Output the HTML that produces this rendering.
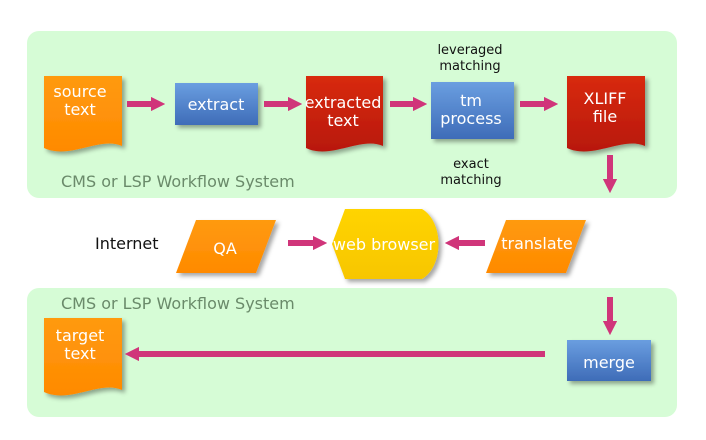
<!DOCTYPE html>
<html><head><meta charset="utf-8"><style>
html,body{margin:0;padding:0;background:#fff;}
svg{display:block;}
text{font-family:"DejaVu Sans","Liberation Sans",sans-serif;}
</style></head><body>
<svg width="706" height="440" viewBox="0 0 706 440" xmlns="http://www.w3.org/2000/svg">
<defs>
<linearGradient id="og" x1="0" y1="0" x2="0" y2="1"><stop offset="0" stop-color="#ff9a10"/><stop offset="1" stop-color="#ff8a00"/></linearGradient>
<linearGradient id="rg" x1="0" y1="0" x2="0" y2="1"><stop offset="0" stop-color="#d82a10"/><stop offset="1" stop-color="#b81808"/></linearGradient>
<linearGradient id="bg" x1="0" y1="0" x2="0" y2="1"><stop offset="0" stop-color="#6a9ee0"/><stop offset="1" stop-color="#3e6cb8"/></linearGradient>
<linearGradient id="yg" x1="0" y1="0" x2="0" y2="1"><stop offset="0" stop-color="#ffd400"/><stop offset="1" stop-color="#f7c600"/></linearGradient>
<filter id="sh" x="-20%" y="-20%" width="150%" height="150%"><feDropShadow dx="3" dy="3" stdDeviation="2" flood-color="#000" flood-opacity="0.35"/></filter>
<marker id="ah" viewBox="0 0 10 10" refX="5" refY="5" markerWidth="2.4" markerHeight="2.4" orient="auto"><path d="M0,0 L10,5 L0,10 z" fill="#d0357a"/></marker>
</defs>
<rect x="27" y="31" width="650" height="167" rx="12" fill="#d6fcd6"/>
<rect x="27" y="288" width="650" height="129" rx="12" fill="#d6fcd6"/>
<g filter="url(#sh)">
<path d="M44,76 H122 V146 C100,136 70,160 44,148 Z" fill="url(#og)"/>
<path d="M306,76 H383 V146 C361,136 331,160 306,148 Z" fill="url(#rg)"/>
<path d="M567,76 H645 V146 C623,136 593,160 567,148 Z" fill="url(#rg)"/>
<path d="M44,318 H122 V390 C100,380 70,404 44,392 Z" fill="url(#og)"/>
<rect x="175" y="83" width="83" height="42" fill="url(#bg)"/>
<rect x="431" y="82" width="83" height="57" fill="url(#bg)"/>
<rect x="567" y="340" width="84" height="41" fill="url(#bg)"/>
<path d="M196,220 H276 L256,273 H176 Z" fill="url(#og)"/>
<path d="M506,220 H586 L566,273 H486 Z" fill="url(#og)"/>
<path d="M345,209 H422 C444,222 444,266 422,279 H345 L332,244 Z" fill="url(#yg)"/>
</g>
<g stroke="#d0357a" stroke-width="6" fill="none">
<line x1="127" y1="104" x2="158" y2="104" marker-end="url(#ah)"/>
<line x1="264" y1="104" x2="295" y2="104" marker-end="url(#ah)"/>
<line x1="390" y1="104" x2="420" y2="104" marker-end="url(#ah)"/>
<line x1="520" y1="104" x2="551" y2="104" marker-end="url(#ah)"/>
<line x1="610" y1="155" x2="610" y2="186" marker-end="url(#ah)"/>
<line x1="288" y1="243" x2="320" y2="243" marker-end="url(#ah)"/>
<line x1="485" y1="243" x2="452" y2="243" marker-end="url(#ah)"/>
<line x1="610" y1="297" x2="610" y2="328" marker-end="url(#ah)"/>
<line x1="545" y1="354" x2="132" y2="354" marker-end="url(#ah)"/>
</g>
<g fill="#fff" font-size="16" text-anchor="middle">
<text x="80" y="97">source</text><text x="80" y="115">text</text>
<text x="216" y="110">extract</text>
<text x="343" y="108">extracted</text><text x="343" y="126">text</text>
<text x="471" y="106">tm</text><text x="471" y="124">process</text>
<text x="605" y="104">XLIFF</text><text x="605" y="122">file</text>
<text x="80" y="341">target</text><text x="80" y="359">text</text>
<text x="609" y="368">merge</text>
<text x="225" y="254">QA</text>
<text x="384" y="250">web browser</text>
<text x="537" y="249">translate</text>
</g>
<g fill="#111" font-size="13" text-anchor="middle">
<text x="470" y="54">leveraged</text><text x="470" y="70">matching</text>
<text x="471" y="168">exact</text><text x="471" y="184">matching</text>
</g>
<text x="95" y="249" font-size="16" fill="#111">Internet</text>
<g fill="#6a8a6a" font-size="16">
<text x="61" y="187">CMS or LSP Workflow System</text>
<text x="61" y="309">CMS or LSP Workflow System</text>
</g>
</svg>
</body></html>
